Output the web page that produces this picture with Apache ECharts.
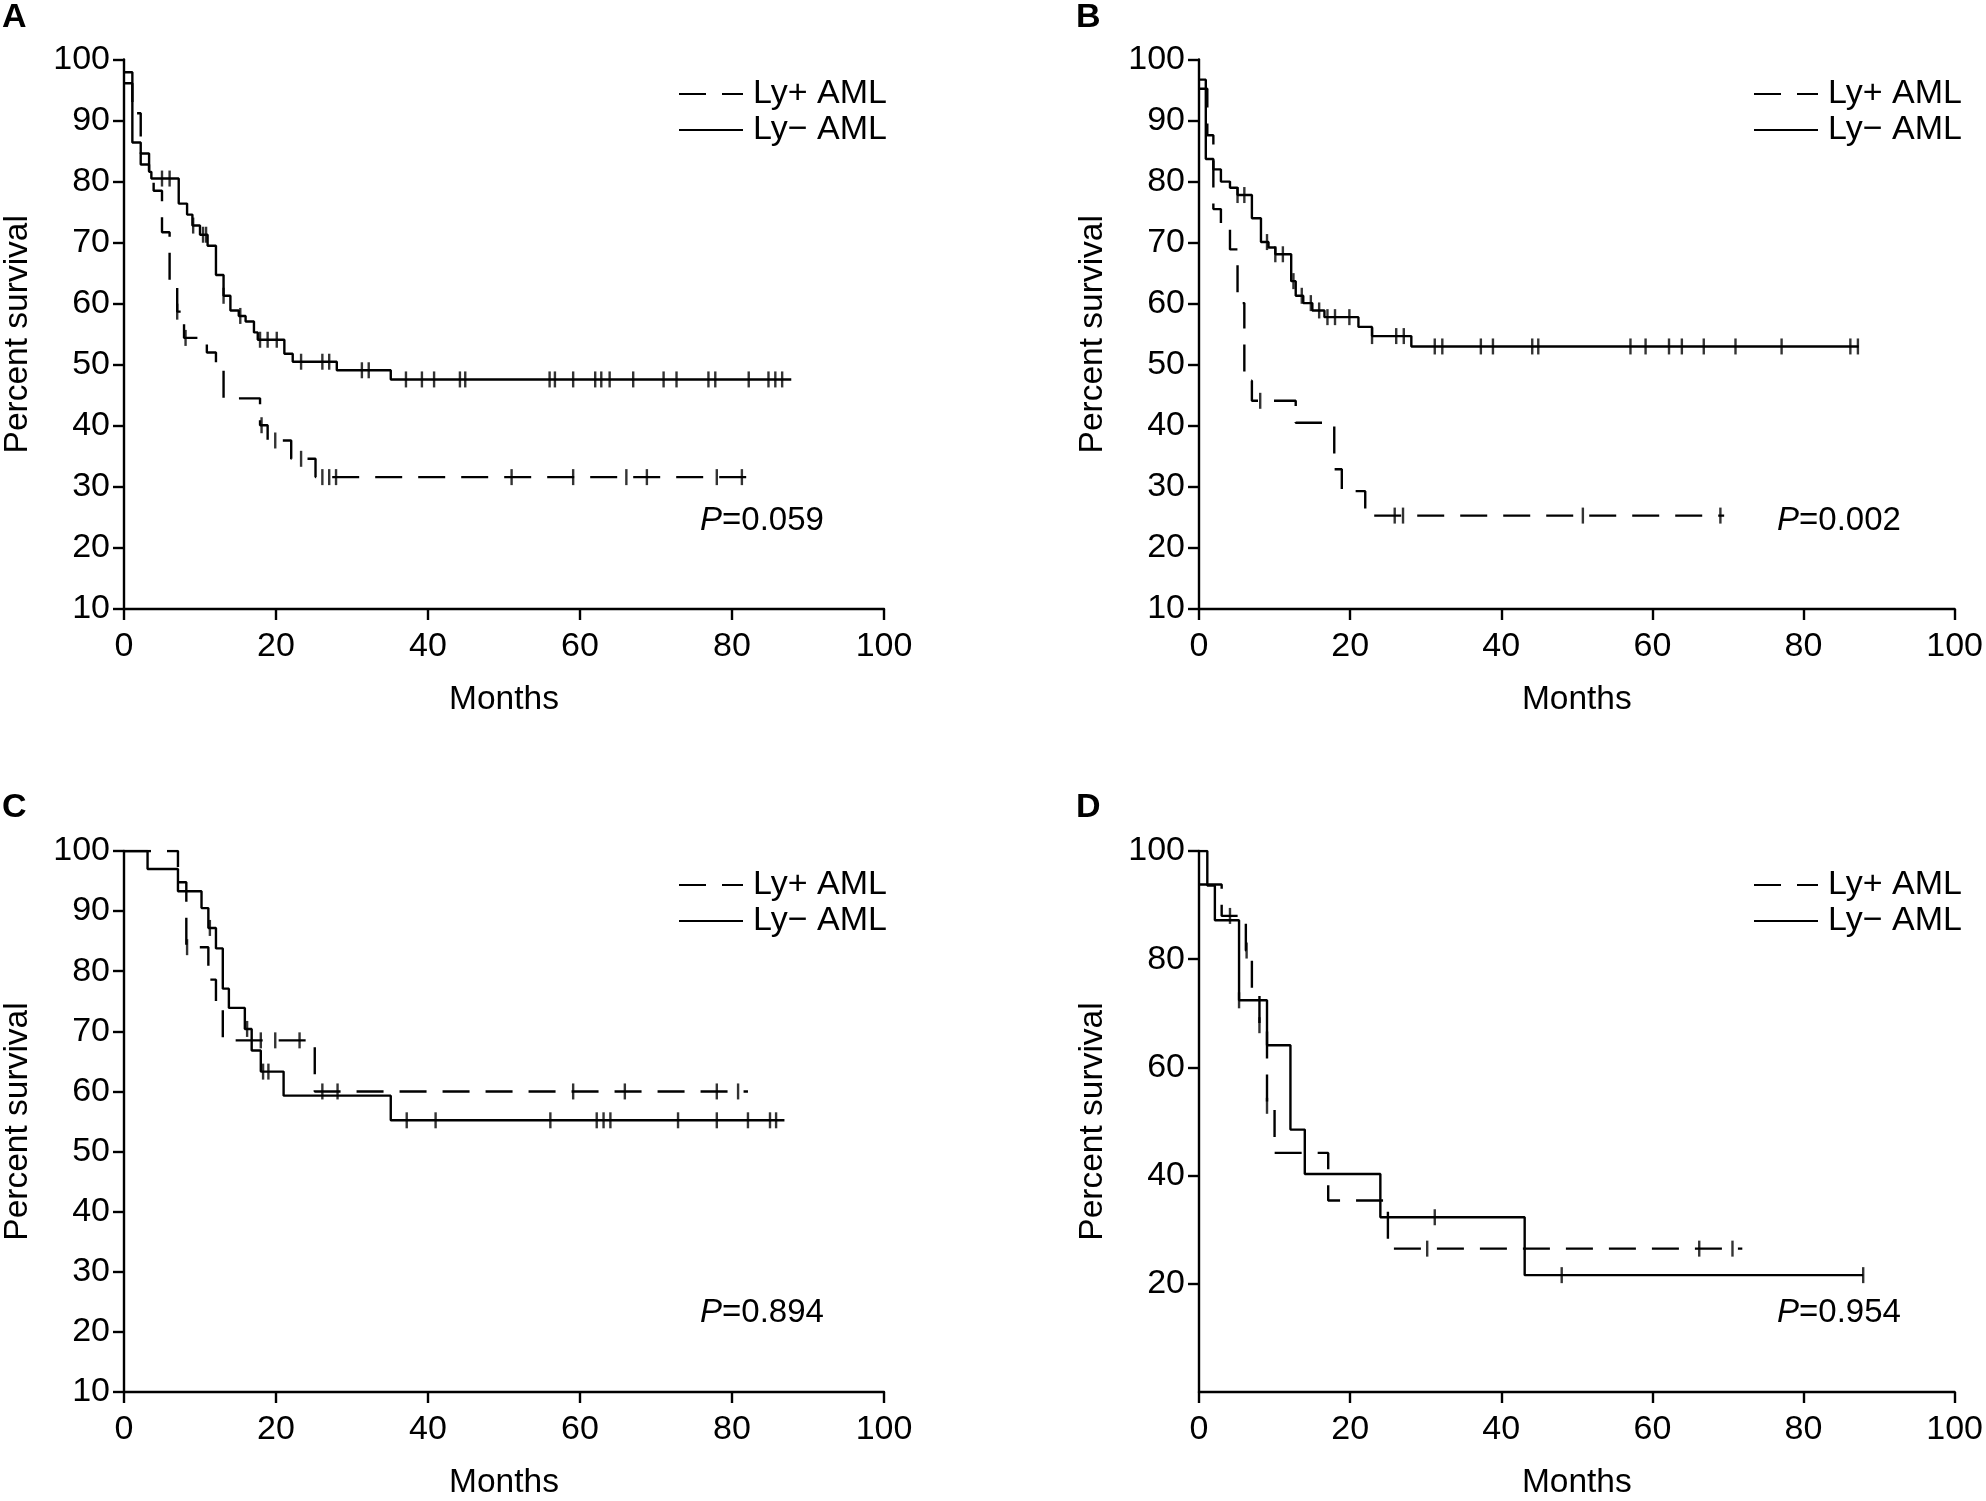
<!DOCTYPE html>
<html><head><meta charset="utf-8">
<script src="https://cdn.jsdelivr.net/npm/echarts@6/dist/echarts.min.js"></script>
<style>html,body{margin:0;padding:0;background:#fff}#c{width:1986px;height:1501px}</style>
</head><body><div id="c"></div>
<script>
// ---------- data ----------
const panelLabels = ['A', 'B', 'C', 'D'];
const pValues = ['0.059', '0.002', '0.894', '0.954'];
const seriesNames = ['Ly+ AML', 'Ly\u2212 AML'];
const xTicks = [0, 20, 40, 60, 80, 100];
const yRangeABC = [10, 100, 10];
const yRangeD = [0, 100, 20];

// Panel A
const aPosSteps = [[0,96.1],[1.1,91.2],[2.2,82.8],[3.3,81.6],[3.9,78.5],[5.0,71.7],[6.0,63.0],[7.0,58.7],[7.9,54.4],[10.9,52.0],[12.1,49.5],[13.1,44.5],[17.9,40.1],[18.9,37.6],[22.0,34.6],[25.2,31.6]];
const aPosCensor = [7.0,8.1,18.1,19.9,23.3,26.1,27.0,27.9,51.0,59.1,66.1,68.8,78.0,81.3];
const aPosEnd = 82.1;
const aNegSteps = [[0,97.9],[1.1,86.4],[2.2,84.6],[3.3,81.6],[3.6,80.5],[7.2,76.4],[8.3,74.6],[9.0,72.8],[10.0,71.3],[11.0,69.5],[12.1,64.7],[13.1,61.3],[14.0,58.9],[15.1,58.0],[16.0,57.1],[17.1,55.3],[17.6,54.1],[21.1,51.8],[22.2,50.5],[28.0,49.1],[35.1,47.6]];
const aNegCensor = [5.0,6.0,9.1,10.4,10.8,13.1,15.3,17.9,18.9,20.1,23.3,26.1,27.0,31.3,32.2,37.1,39.2,40.8,44.2,44.9,56.0,56.7,59.1,62.0,62.8,63.9,67.0,71.0,72.7,76.9,77.8,82.2,84.8,85.7,86.6];
const aNegEnd = 87.8;

// Panel B
const bPosSteps = [[0,95.2],[1.1,87.6],[1.9,75.5],[2.9,72.2],[4.1,68.9],[5.1,60.1],[6.0,47.4],[7.0,44.1],[12.8,40.5],[17.9,32.9],[18.9,29.3],[22.0,25.3]];
const bPosCensor = [8.1,25.9,27.0,50.8,69.0];
const bPosEnd = 69.5;
const bNegSteps = [[0,96.7],[0.9,83.7],[1.9,82.0],[2.9,80.0],[4.1,79.0],[5.1,77.8],[7.0,74.0],[8.2,70.1],[9.2,69.2],[10.1,68.1],[12.2,63.7],[12.8,61.3],[13.8,60.1],[15.0,58.9],[16.6,57.8],[21.1,56.2],[22.9,54.7],[28.1,53.0]];
const bNegCensor = [5.1,6.0,9.0,10.1,11.1,12.5,13.6,14.8,15.9,17.0,18.0,19.9,22.9,26.1,27.1,31.2,32.2,37.3,38.9,44.1,44.9,57.1,59.1,62.2,63.9,66.8,71.0,77.1,86.2,87.2];
const bNegEnd = 87.3;

// Panel C
const cPosSteps = [[0,100],[7.1,94.8],[8.2,84.0],[11.1,78.6],[12.1,73.7],[13.0,68.5],[25.1,60.0]];
const cPosCensor = [8.3,18.0,19.9,23.1,26.1,28.1,59.1,65.9,78.0,80.8];
const cPosEnd = 82.1;
const cNegSteps = [[0,100],[3.1,97.0],[7.1,93.3],[10.2,90.5],[11.1,87.2],[12.1,83.8],[13.0,77.1],[13.8,73.9],[15.9,70.4],[16.8,66.8],[18.0,63.3],[21.0,59.3],[35.1,55.2]];
const cNegCensor = [11.3,16.2,18.3,19.0,37.2,41.0,56.1,62.2,63.1,64.0,72.9,78.0,82.1,85.0,85.8];
const cNegEnd = 86.9;

// Panel D
const dPosSteps = [[0,93.8],[3.0,88.0],[6.2,81.6],[7.0,74.4],[8.0,67.8],[9.0,52.9],[10.0,44.2],[17.1,35.4],[25.0,26.5]];
const dPosCensor = [4.1,6.3,8.0,9.0,30.2,66.2,70.6];
const dPosEnd = 71.9;
const dNegSteps = [[0,100],[1.1,93.6],[2.1,87.2],[5.3,72.4],[9.0,64.1],[12.1,48.5],[14.0,40.3],[24.0,32.3],[43.1,21.6]];
const dNegCensor = [5.3,31.2,48.0,87.9];
const dNegEnd = 87.9;

// ---------- layout / style ----------
const FONT = "'Liberation Sans',Arial,Helvetica,sans-serif";
const grids = [
  {left: 124, top: 59.5, width: 760, height: 549.5},
  {left: 1199, top: 59.5, width: 760, height: 549.5},
  {left: 124, top: 851, width: 760, height: 550},
  {left: 1199, top: 851, width: 760, height: 550}
];
const panels = [
  {pos: aPosSteps, posC: aPosCensor, posE: aPosEnd, neg: aNegSteps, negC: aNegCensor, negE: aNegEnd, yr: yRangeABC},
  {pos: bPosSteps, posC: bPosCensor, posE: bPosEnd, neg: bNegSteps, negC: bNegCensor, negE: bNegEnd, yr: yRangeABC},
  {pos: cPosSteps, posC: cPosCensor, posE: cPosEnd, neg: cNegSteps, negC: cNegCensor, negE: cNegEnd, yr: yRangeABC},
  {pos: dPosSteps, posC: dPosCensor, posE: dPosEnd, neg: dNegSteps, negC: dNegCensor, negE: dNegEnd, yr: yRangeD}
];

function survivalAt(steps, t) {
  let s = steps[0][1];
  for (const p of steps) { if (p[0] <= t) s = p[1]; }
  return s;
}
function stepData(steps, end) {
  return steps.concat([[end, steps[steps.length - 1][1]]]);
}

const LW = 2.4;
const axisLine = {show: true, lineStyle: {color: '#000', width: 2.4}};
const axisTick = {show: true, inside: false, length: 11, lineStyle: {color: '#000', width: 2.4}};

const xAxes = [], yAxes = [], series = [], legends = [], graphics = [];
const legendPos = [
  {left: 678, top: 76}, {left: 1753, top: 76},
  {left: 678, top: 867}, {left: 1753, top: 867}
];
const pPos = [
  {left: 700, top: 504}, {left: 1777, top: 504},
  {left: 700, top: 1296}, {left: 1777, top: 1296}
];
const letterPos = [
  {left: 2, top: 1}, {left: 1076, top: 1},
  {left: 2, top: 791}, {left: 1076, top: 791}
];

panels.forEach((p, i) => {
  xAxes.push({
    gridIndex: i, type: 'value', min: xTicks[0], max: xTicks[xTicks.length - 1],
    interval: xTicks[1] - xTicks[0],
    axisLine, axisTick, splitLine: {show: false},
    axisLabel: {color: '#000', fontSize: 34, fontFamily: FONT, margin: 21},
    name: 'Months', nameLocation: 'middle', nameGap: 74,
    nameTextStyle: {color: '#000', fontSize: 33.5, fontFamily: FONT}
  });
  yAxes.push({
    gridIndex: i, type: 'value', min: p.yr[0], max: p.yr[1], interval: p.yr[2],
    axisLine, axisTick, splitLine: {show: false},
    axisLabel: {color: '#000', fontSize: 34, fontFamily: FONT, margin: 14, showMinLabel: p.yr[0] !== 0},
    name: 'Percent survival', nameLocation: 'middle', nameGap: 89, nameRotate: 90,
    nameTextStyle: {color: '#000', fontSize: 33.5, fontFamily: FONT}
  });
  series.push({
    name: seriesNames[0], type: 'line', xAxisIndex: i, yAxisIndex: i, step: 'end',
    symbol: 'none', data: stepData(p.pos, p.posE),
    lineStyle: {color: '#000', width: LW, type: [27, 16]}, itemStyle: {color: '#000'}, z: 3
  });
  series.push({
    name: seriesNames[1], type: 'line', xAxisIndex: i, yAxisIndex: i, step: 'end',
    symbol: 'none', data: stepData(p.neg, p.negE),
    lineStyle: {color: '#000', width: LW, type: 'solid'}, itemStyle: {color: '#000'}, z: 3
  });
  series.push({
    name: 'censor+' + i, type: 'scatter', xAxisIndex: i, yAxisIndex: i,
    symbol: 'rect', symbolSize: [2.4, 16],
    data: p.posC.map(t => [t, survivalAt(p.pos, t)]),
    itemStyle: {color: '#000'}, z: 4, silent: true
  });
  series.push({
    name: 'censor-' + i, type: 'scatter', xAxisIndex: i, yAxisIndex: i,
    symbol: 'rect', symbolSize: [2.4, 16],
    data: p.negC.map(t => [t, survivalAt(p.neg, t)]),
    itemStyle: {color: '#000'}, z: 4, silent: true
  });
  legends.push({
    left: legendPos[i].left, top: legendPos[i].top, orient: 'vertical', padding: 0,
    itemGap: 0, itemWidth: 64, itemHeight: 20,
    data: seriesNames.slice(),
    itemStyle: {opacity: 0},
    textStyle: {color: '#000', fontSize: 34, fontFamily: FONT, padding: [0, 0, 0, 5], lineHeight: 36},
    selectedMode: false
  });
  graphics.push({
    type: 'text', left: pPos[i].left, top: pPos[i].top,
    style: {
      text: '{i|P}=' + pValues[i],
      rich: {i: {fontStyle: 'italic', fontSize: 33, fontFamily: FONT, fill: '#000'}},
      fontSize: 33, fontFamily: FONT, fill: '#000'
    }
  });
  graphics.push({
    type: 'text', left: letterPos[i].left, top: letterPos[i].top,
    style: {text: panelLabels[i], fontSize: 34, fontWeight: 'bold', fontFamily: FONT, fill: '#000'}
  });
});

const chart = echarts.init(document.getElementById('c'), null, {renderer: 'canvas'});
chart.setOption({
  animation: false,
  backgroundColor: '#fff',
  grid: grids,
  xAxis: xAxes,
  yAxis: yAxes,
  legend: legends,
  series: series,
  graphic: graphics
});
</script></body></html>
